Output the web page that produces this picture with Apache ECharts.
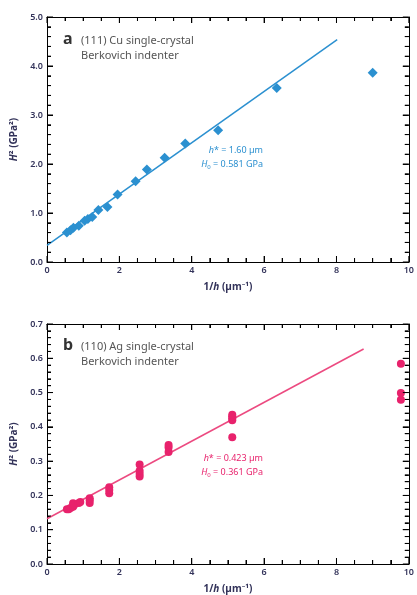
<!DOCTYPE html>
<html>
<head>
<meta charset="utf-8">
<script src="https://cdn.jsdelivr.net/npm/echarts@6/dist/echarts.min.js"></script>
<style>
  html, body { margin: 0; padding: 0; background: #fff; }
  #chart { width: 417px; height: 595px; }
</style>
</head>
<body>
<div id="chart"></div>
<script>
// (a) Cu, Berkovich – H^2 vs 1/h
const cuX = [0.55, 0.65, 0.73, 0.88, 1.04, 1.13, 1.25, 1.42, 1.67, 1.95, 2.45, 2.76, 3.25, 3.82, 4.73, 6.35, 9.0];
const cuY = [0.60, 0.65, 0.70, 0.74, 0.84, 0.88, 0.92, 1.06, 1.12, 1.38, 1.65, 1.89, 2.13, 2.42, 2.69, 3.55, 3.86];
const cuFitX = [0, 8.02];
const cuFitY = [0.34, 4.54];

// (b) Ag, Berkovich
const agX = [0.55, 0.6, 0.65, 0.72, 0.72, 0.75, 0.88, 0.92, 1.18, 1.18, 1.18, 1.72, 1.72, 1.72,
             2.56, 2.56, 2.56, 2.56, 3.36, 3.36, 3.36, 5.12, 5.12, 5.12, 5.12, 5.12, 9.78, 9.78, 9.78];
const agY = [0.160, 0.160, 0.163, 0.167, 0.177, 0.172, 0.178, 0.181, 0.178, 0.186, 0.192, 0.206, 0.216, 0.224,
             0.255, 0.263, 0.272, 0.290, 0.327, 0.340, 0.347, 0.370, 0.419, 0.425, 0.430, 0.435, 0.479, 0.499, 0.584];
const agFitX = [0, 8.75];
const agFitY = [0.132, 0.627];

const blue = '#2b90d0';
const pink = '#e8226c';
const labelColor = '#33335a';
const font = 'Noto Sans';

function pairs(xs, ys) { return xs.map((x, i) => [x, ys[i]]); }

function xAxisFor(gi, pos, showLabel) {
  return {
    gridIndex: gi, type: 'value', position: pos, min: 0, max: 10, interval: 2,
    axisLine: { show: true, onZero: false, lineStyle: { color: '#000' } },
    axisTick: { show: true, inside: true, length: 6, lineStyle: { color: '#000' } },
    minorTick: { show: true, splitNumber: 4, length: 4, lineStyle: { color: '#000' } },
    splitLine: { show: false },
    axisLabel: { show: showLabel, color: labelColor, fontSize: 9, fontFamily: font, margin: 4, fontWeight: 600 },
    name: showLabel ? '1/{bi|h} (µm⁻¹)' : '',
    nameLocation: 'middle', nameGap: 20,
    nameTextStyle: { fontSize: 10, fontWeight: 'bold', color: labelColor, fontFamily: font,
                     rich: { bi: { fontSize: 10, fontStyle: 'italic' } } }
  };
}

function yAxisFor(gi, pos, max, interval, showLabel) {
  return {
    gridIndex: gi, type: 'value', position: pos, min: 0, max: max, interval: interval,
    axisLine: { show: true, onZero: false, lineStyle: { color: '#000' } },
    axisTick: { show: true, inside: true, length: 6, lineStyle: { color: '#000' } },
    minorTick: { show: true, splitNumber: 5, length: 4, lineStyle: { color: '#000' } },
    splitLine: { show: false },
    axisLabel: { show: showLabel, color: labelColor, fontSize: 9, fontFamily: font, margin: 4, fontWeight: 600,
                 formatter: v => v.toFixed(1) },
    name: showLabel ? '{bi|H}² (GPa²)' : '',
    nameLocation: 'middle', nameGap: 26, nameRotate: 90,
    nameTextStyle: { fontSize: 10, fontWeight: 'bold', color: labelColor, fontFamily: font,
                     rich: { bi: { fontSize: 10, fontStyle: 'italic' } } }
  };
}

// inward ticks on all four sides, placed through the axes' own scales
function frameTicks(xi, yi, xMax, xMajor, xSplit, yMax, yMajor, ySplit) {
  return {
    type: 'custom', xAxisIndex: xi, yAxisIndex: yi, silent: true, clip: false, z: 5,
    data: [[0, 0]],
    renderItem: function (params, api) {
      const kids = [];
      const line = (x1, y1, x2, y2) => kids.push({ type: 'line',
        shape: { x1: x1, y1: y1, x2: x2, y2: y2 }, style: { stroke: '#000', lineWidth: 1 } });
      const nx = Math.round(xMax / xMajor) * xSplit;
      for (let i = 0; i <= nx; i++) {
        const v = i * xMajor / xSplit;
        const len = i % xSplit === 0 ? 6 : 4;
        const b = api.coord([v, 0]), t = api.coord([v, yMax]);
        line(b[0], b[1], b[0], b[1] - len);
        line(t[0], t[1], t[0], t[1] + len);
      }
      const ny = Math.round(yMax / yMajor) * ySplit;
      for (let j = 0; j <= ny; j++) {
        const v = j * yMajor / ySplit;
        const len = j % ySplit === 0 ? 6 : 4;
        const l = api.coord([0, v]), r = api.coord([xMax, v]);
        line(l[0], l[1], l[0] + len, l[1]);
        line(r[0], r[1], r[0] - len, r[1]);
      }
      return { type: 'group', children: kids };
    }
  };
}

function panelText(x, y, letter, l1, l2) {
  return [
    { type: 'text', left: x, top: y, style: { text: letter, font: 'bold 16px "Noto Sans"', fill: '#333' } },
    { type: 'text', left: x + 18, top: y + 2, style: { text: l1 + '\n' + l2, font: '11px "Noto Sans"', fill: '#555', lineHeight: 15 } }
  ];
}

function fitText(right, y, color, hStar, h0) {
  return {
    type: 'text', x: right, y: y,
    style: {
      text: '{i|h}* = ' + hStar + ' µm\n{i|H}{s|0} = ' + h0 + ' GPa',
      align: 'right', fill: color, font: '9px "Noto Sans"', lineHeight: 14,
      rich: {
        i: { fontStyle: 'italic', fill: color, fontSize: 9, fontFamily: font },
        s: { fill: color, fontSize: 6, fontFamily: font, padding: [6, 0, 0, 0] }
      }
    }
  };
}

const chart = echarts.init(document.getElementById('chart'));
chart.setOption({
  animation: false,
  grid: [
    { left: 47, top: 17, width: 366, height: 245 },
    { left: 47, top: 324, width: 366, height: 244 }
  ],
  xAxis: [
    xAxisFor(0, 'bottom', true), xAxisFor(0, 'top', false),
    xAxisFor(1, 'bottom', true), xAxisFor(1, 'top', false)
  ],
  yAxis: [
    yAxisFor(0, 'left', 5, 1, true), yAxisFor(0, 'right', 5, 1, false),
    yAxisFor(1, 'left', 0.7, 0.1, true), yAxisFor(1, 'right', 0.7, 0.1, false)
  ],
  series: [
    { type: 'line', xAxisIndex: 0, yAxisIndex: 0, data: pairs(cuFitX, cuFitY), symbol: 'none',
      lineStyle: { color: blue, width: 1.5 }, z: 2 },
    { type: 'scatter', xAxisIndex: 0, yAxisIndex: 0, data: pairs(cuX, cuY), symbol: 'diamond',
      symbolSize: 10, itemStyle: { color: blue, opacity: 1 }, z: 3 },
    { type: 'line', xAxisIndex: 2, yAxisIndex: 2, data: pairs(agFitX, agFitY), symbol: 'none',
      lineStyle: { color: '#ec4a80', width: 1.5 }, z: 2 },
    { type: 'scatter', xAxisIndex: 2, yAxisIndex: 2, data: pairs(agX, agY), symbol: 'circle',
      symbolSize: 8, itemStyle: { color: pink, opacity: 1 }, z: 3 },
    frameTicks(0, 0, 10, 2, 4, 5, 1, 5),
    frameTicks(2, 2, 10, 2, 4, 0.7, 0.1, 5)
  ],
  graphic: [
    ...panelText(63, 31, 'a', '(111) Cu single-crystal', 'Berkovich indenter'),
    ...panelText(63, 337, 'b', '(110) Ag single-crystal', 'Berkovich indenter'),
    fitText(263, 143, blue, '1.60', '0.581'),
    fitText(263, 451, pink, '0.423', '0.361')
  ]
});
</script>
</body>
</html>
